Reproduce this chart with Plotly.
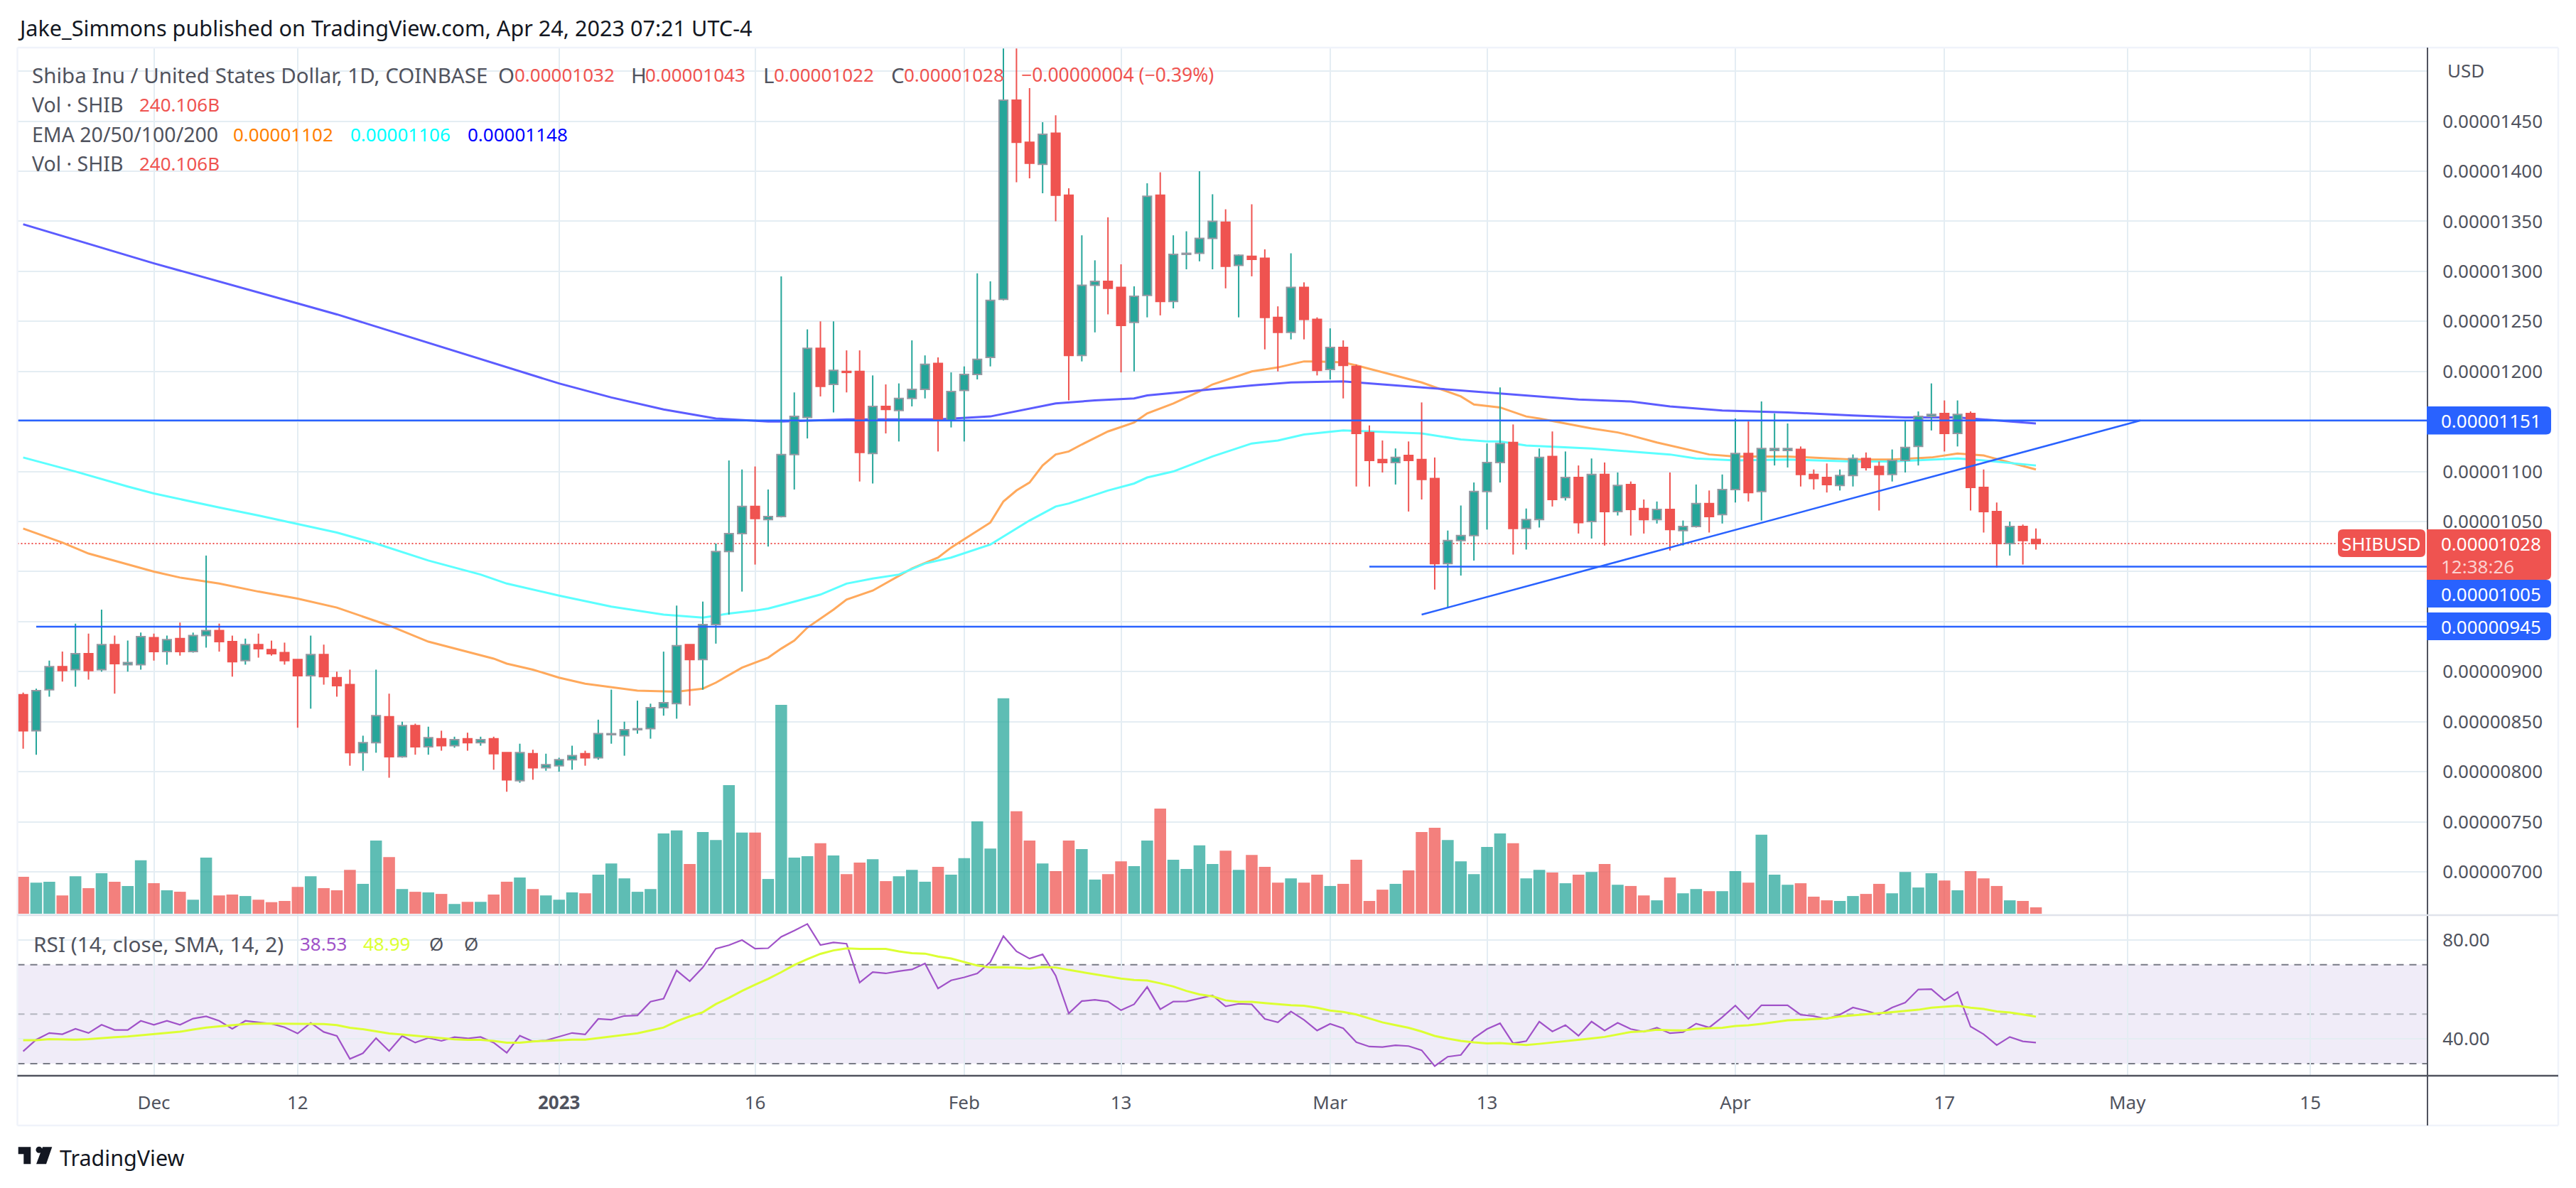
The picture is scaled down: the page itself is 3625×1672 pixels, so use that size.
"""SHIB/USD daily chart with EMAs, volume and RSI, in the TradingView look."""

import numpy as np
import pandas as pd
import plotly.graph_objects as go

W, H = 3625, 1672
FONT = "Noto Sans"
PRICE_UNIT = 1e-8  # all prices below are in units of 0.00000001

FIRST_DAY = "2022-11-21"

OPEN = [877, 841, 882, 905, 902, 918, 902, 927, 907, 907,
        934, 920, 933, 920, 936, 941, 930, 911, 927, 922,
        919, 912, 896, 917, 894, 887, 819, 829, 855, 815,
        846, 825, 833, 826, 833, 829, 833, 819, 791, 818,
        804, 806, 812, 818, 814, 837, 836, 842, 843, 864,
        868, 927, 912, 947, 1020, 1038, 1065, 1052, 1055, 1117,
        1154, 1223, 1187, 1200, 1200, 1118, 1165, 1161, 1173, 1182,
        1208, 1151, 1181, 1197, 1214, 1272, 1471, 1429, 1407, 1438,
        1376, 1216, 1286, 1290, 1284, 1249, 1276, 1376, 1270, 1317,
        1318, 1333, 1349, 1306, 1315, 1313, 1254, 1239, 1284, 1252,
        1202, 1224, 1205, 1139, 1112, 1109, 1116, 1112, 1093, 1008,
        1031, 1036, 1080, 1109, 1129, 1043, 1052, 1115, 1074, 1094,
        1050, 1097, 1060, 1087, 1063, 1052, 1062, 1041, 1045, 1068,
        1057, 1082, 1118, 1080, 1121, 1121, 1122, 1097, 1094, 1086,
        1096, 1113, 1105, 1097, 1111, 1125, 1155, 1158, 1138, 1158,
        1084, 1060, 1028, 1045, 1032]
HIGH = [879, 883, 911, 920, 948, 938, 962, 936, 931, 939,
        938, 936, 949, 939, 1016, 948, 936, 933, 938, 931,
        929, 912, 936, 927, 900, 902, 836, 902, 878, 850,
        848, 845, 841, 835, 839, 835, 835, 819, 828, 822,
        818, 814, 826, 821, 852, 882, 850, 871, 868, 920,
        966, 927, 970, 1028, 1111, 1102, 1105, 1082, 1295, 1179,
        1242, 1250, 1250, 1221, 1221, 1196, 1187, 1188, 1231, 1216,
        1214, 1199, 1205, 1298, 1290, 1530, 1530, 1483, 1449, 1456,
        1383, 1336, 1311, 1354, 1307, 1285, 1388, 1399, 1336, 1340,
        1400, 1377, 1362, 1317, 1367, 1322, 1265, 1318, 1289, 1254,
        1243, 1231, 1207, 1146, 1131, 1123, 1130, 1169, 1114, 1041,
        1066, 1089, 1128, 1184, 1147, 1063, 1123, 1140, 1120, 1106,
        1113, 1109, 1099, 1090, 1072, 1070, 1099, 1051, 1087, 1081,
        1097, 1153, 1150, 1170, 1158, 1148, 1125, 1102, 1108, 1102,
        1117, 1119, 1110, 1122, 1151, 1160, 1188, 1171, 1171, 1160,
        1102, 1069, 1050, 1047, 1043]
LOW = [823, 817, 875, 890, 885, 892, 900, 878, 900, 902,
       911, 907, 916, 919, 924, 920, 895, 907, 914, 916,
       907, 844, 863, 887, 875, 806, 801, 819, 794, 814,
       817, 817, 821, 824, 821, 826, 802, 780, 789, 792,
       801, 800, 802, 806, 812, 828, 816, 838, 833, 856,
       853, 866, 882, 928, 957, 980, 1007, 1025, 1054, 1082,
       1133, 1175, 1159, 1179, 1090, 1088, 1138, 1130, 1165, 1173,
       1120, 1144, 1130, 1192, 1205, 1271, 1389, 1393, 1378, 1350,
       1171, 1210, 1239, 1257, 1199, 1200, 1254, 1256, 1263, 1302,
       1310, 1302, 1283, 1254, 1295, 1222, 1200, 1232, 1232, 1196,
       1192, 1173, 1085, 1085, 1099, 1087, 1060, 1072, 982, 964,
       996, 1011, 1042, 1089, 1017, 1022, 1044, 1065, 1071, 1038,
       1033, 1026, 1056, 1036, 1038, 1048, 1021, 1026, 1044, 1039,
       1048, 1069, 1070, 1051, 1106, 1104, 1085, 1082, 1079, 1081,
       1085, 1101, 1061, 1090, 1099, 1106, 1141, 1120, 1125, 1061,
       1039, 1004, 1016, 1007, 1022]
CLOSE = [841, 881, 905, 901, 918, 901, 927, 908, 909, 935,
         920, 932, 920, 936, 941, 930, 910, 927, 923, 918,
         911, 896, 917, 895, 886, 819, 829, 856, 815, 846,
         825, 834, 826, 832, 829, 832, 818, 792, 819, 804,
         807, 812, 816, 814, 838, 838, 842, 843, 864, 869,
         926, 912, 947, 1020, 1038, 1065, 1053, 1055, 1117, 1155,
         1223, 1185, 1201, 1199, 1119, 1165, 1162, 1173, 1182, 1207,
         1151, 1180, 1197, 1212, 1271, 1471, 1429, 1408, 1437, 1376,
         1216, 1286, 1290, 1283, 1246, 1275, 1375, 1270, 1317, 1318,
         1333, 1350, 1305, 1316, 1312, 1254, 1239, 1284, 1252, 1201,
         1224, 1206, 1138, 1111, 1109, 1114, 1111, 1092, 1008, 1031,
         1036, 1080, 1109, 1128, 1043, 1052, 1114, 1072, 1094, 1049,
         1097, 1060, 1086, 1062, 1052, 1062, 1042, 1045, 1068, 1055,
         1082, 1118, 1079, 1123, 1123, 1123, 1097, 1093, 1087, 1096,
         1113, 1104, 1097, 1111, 1124, 1155, 1157, 1138, 1157, 1084,
         1060, 1028, 1045, 1031, 1028]

# volume in billions of SHIB
VOLUME = [1387, 1169, 1203, 688, 1410, 963, 1524, 1203, 1043, 2006,
          1146, 882, 825, 527, 2109, 688, 722, 665, 527, 435,
          481, 1008, 1410, 963, 882, 1650, 1123, 2750, 2132, 928,
          825, 802, 745, 367, 447, 447, 722, 1203, 1364, 928,
          688, 527, 802, 768, 1467, 1891, 1329, 825, 928, 3014,
          3129, 1868, 3071, 2773, 4836, 3048, 3048, 1306, 7850, 2109,
          2166, 2647, 2189, 1490, 1925, 2051, 1226, 1410, 1650, 1203,
          1765, 1467, 2086, 3472, 2452, 8100, 3851, 2750, 1891, 1604,
          2750, 2430, 1284, 1490, 1971, 1788, 2750, 3954, 2028, 1685,
          2567, 1868, 2372, 1650, 2212, 1765, 1169, 1329, 1169, 1467,
          1043, 1123, 2028, 481, 905, 1123, 1627, 3071, 3232, 2773,
          1971, 1490, 2510, 3014, 2647, 1329, 1650, 1547, 1146, 1467,
          1570, 1868, 1089, 1043, 688, 504, 1364, 768, 928, 848,
          848, 1604, 1169, 2968, 1467, 1089, 1146, 642, 504, 481,
          665, 745, 1123, 768, 1570, 986, 1524, 1249, 882, 1604,
          1329, 1043, 504, 481, 240]

RSI = [35.0, 39.7, 42.4, 41.9, 44.1, 42.4, 45.7, 43.6, 43.6, 47.3,
       45.7, 47.3, 45.7, 48.2, 49.1, 47.3, 44.1, 47.3, 46.7, 46.1,
       44.7, 42.2, 46.5, 42.8, 41.2, 31.9, 34.2, 40.3, 35.1, 41.2,
       38.5, 40.4, 39.2, 40.7, 40.2, 40.8, 38.5, 34.4, 41.3, 39.0,
       39.4, 40.8, 42.4, 41.8, 48.1, 47.8, 49.3, 49.5, 55.1, 56.3,
       67.7, 63.3, 68.9, 76.5, 77.9, 80.0, 76.5, 76.7, 81.3, 83.8,
       86.5, 78.0, 79.0, 78.5, 62.8, 67.0, 66.5, 67.4, 68.1, 70.5,
       60.4, 63.7, 64.9, 66.5, 71.1, 81.6, 75.4, 72.5, 74.2, 65.6,
       50.3, 55.3, 55.8, 55.1, 51.6, 54.0, 61.0, 52.0, 55.1, 55.2,
       56.3, 57.6, 53.2, 54.2, 54.0, 48.1, 46.7, 51.1, 47.7, 43.4,
       46.1, 44.3, 38.7, 36.9, 36.7, 37.4, 37.1, 35.4, 29.0, 32.8,
       33.5, 40.3, 44.0, 46.3, 38.2, 39.1, 47.0, 43.0, 45.6, 41.3,
       47.0, 43.4, 46.5, 44.0, 42.9, 44.5, 42.3, 42.7, 46.2, 44.6,
       48.8, 53.5, 48.1, 53.6, 53.6, 53.6, 49.8, 49.2, 48.1, 49.8,
       52.7, 51.4, 49.8, 52.7, 54.7, 60.0, 60.1, 55.6, 59.0, 45.0,
       41.9, 37.5, 40.8, 39.0, 38.53]
RSI_MA = [39.5, 39.5, 39.9, 39.7, 39.7, 39.9, 40.4, 40.7, 41.0, 41.5,
          42.0, 42.4, 42.9, 43.8, 44.6, 45.1, 45.6, 46.0, 46.2, 46.2,
          46.2, 46.1, 46.2, 46.0, 45.6, 44.5, 43.9, 43.1, 42.2, 41.8,
          41.3, 40.8, 40.2, 39.8, 39.6, 39.6, 39.2, 38.5, 38.5, 39.0,
          39.2, 39.5, 39.7, 39.7, 40.3, 40.9, 41.5, 42.3, 43.4, 44.6,
          47.1, 49.1, 50.8, 54.1, 56.6, 59.4, 61.9, 64.3, 67.0, 69.9,
          72.3, 74.4, 75.8, 76.6, 76.4, 76.5, 76.4, 75.4, 74.7, 74.5,
          73.3, 72.5, 71.2, 69.7, 68.9, 69.0, 68.8, 68.4, 69.1, 68.9,
          67.9, 67.0, 66.2, 65.1, 64.4, 63.8, 63.6, 62.5, 61.2, 59.4,
          58.0, 57.2, 55.6, 55.0, 55.0, 54.5, 54.0, 53.6, 53.4, 52.6,
          51.5, 50.9, 49.9, 48.3, 46.7, 45.6, 44.5, 43.0, 41.2, 40.1,
          39.2, 38.6, 38.2, 38.3, 37.8, 37.5, 38.0, 38.5, 39.2, 39.5,
          40.2, 40.8, 41.9, 42.8, 43.1, 43.7, 43.5, 43.4, 44.1, 44.4,
          44.5, 45.2, 45.5, 46.1, 46.7, 47.5, 47.7, 48.1, 48.3, 49.1,
          49.5, 49.8, 50.4, 50.8, 51.3, 51.8, 52.6, 52.9, 53.4, 52.6,
          52.1, 51.1, 50.7, 49.9, 48.99]

# EMAs read at the days where the curve bends (day number counted from FIRST_DAY)
EMA50_DAY = [0, 3, 5, 8, 10, 12, 15, 18, 21, 24, 26, 28, 31, 34, 36, 37, 39, 41, 43, 47,
             50, 52, 53, 55, 56, 57, 58, 59, 60, 62, 63, 65, 68, 70, 71, 74, 75, 76, 77, 78,
             79, 80, 81, 83, 85, 86, 88, 90, 91, 94, 96, 98, 99, 101, 102, 104, 107, 110, 111, 113,
             115, 116, 118, 120, 122, 123, 125, 127, 129, 131, 135, 140, 143, 146, 148, 150, 154]
EMA50 = [1043, 1029, 1018, 1007, 1000, 994, 988, 980, 973, 964, 955, 946, 930, 920, 913, 908, 902, 894, 888, 881,
         880, 883, 889, 904, 909, 914, 923, 931, 944, 962, 972, 981, 1003, 1014, 1024, 1049, 1070, 1081, 1089, 1106,
         1117, 1120, 1127, 1140, 1149, 1158, 1168, 1180, 1187, 1200, 1204, 1210, 1210, 1209, 1206, 1199, 1189, 1175, 1167, 1164,
         1155, 1153, 1148, 1143, 1139, 1136, 1129, 1123, 1117, 1115, 1115, 1112, 1112, 1114, 1118, 1116, 1102]
EMA100_DAY = [0, 4, 8, 10, 15, 18, 24, 27, 31, 35, 37, 41, 45, 49, 52, 54, 56, 57, 59, 61, 63, 65, 67, 69, 71,
              74, 77, 79, 80, 83, 85, 86, 88, 91, 94, 96, 98, 101, 107, 110, 112, 113, 115, 117, 120, 123, 126,
              128, 131, 135, 140, 143, 148, 150, 154]
EMA100 = [1114, 1100, 1085, 1078, 1064, 1056, 1039, 1028, 1011, 997, 988, 976, 965, 957, 954, 958, 961, 963, 970, 977, 988, 993, 997, 1008, 1014,
          1027, 1051, 1065, 1068, 1081, 1088, 1094, 1100, 1115, 1128, 1131, 1137, 1141, 1138, 1132, 1130, 1130, 1126, 1125, 1123, 1120, 1117,
          1113, 1111, 1112, 1110, 1110, 1113, 1111, 1106]
EMA200_DAY = [0, 10, 21, 24, 41, 45, 49, 53, 57, 58, 63, 70, 74, 77, 79, 82, 85, 86, 90, 94, 97, 101, 107,
              112, 115, 119, 123, 126, 130, 135, 140, 144, 148, 150, 154]
EMA200 = [1347, 1308, 1268, 1257, 1188, 1174, 1162, 1153, 1150, 1150, 1152, 1152, 1155, 1163, 1168, 1171, 1173, 1176, 1181, 1186, 1189, 1190, 1184,
          1179, 1176, 1172, 1170, 1165, 1161, 1159, 1156, 1154, 1154, 1152, 1148]

# hand-drawn support and resistance lines: (first date, last date, price, price)
LINE_DATES = [("2022-11-20 13:00", "2023-05-24", 1151, 1151),
              ("2023-03-04", "2023-05-24", 1005, 1005),
              ("2022-11-22", "2023-05-24", 945, 945),
              ("2023-03-08", "2023-05-02", 957, 1151)]
LAST_PRICE = 1028

X_RANGE = ["2022-11-20 13:26", "2023-05-23 23:00"]
X_TICK_DATES = ["2022-12-01", "2022-12-12", "2023-01-01", "2023-01-16", "2023-02-01", "2023-02-13",
                "2023-03-01", "2023-03-13", "2023-04-01", "2023-04-17", "2023-05-01", "2023-05-15"]
X_TICK_TEXT = ["Dec", "12", "<b>2023</b>", "16", "Feb", "13", "Mar", "13", "Apr", "17", "May", "15"]
PRICE_GRID = [700, 750, 800, 850, 900, 950, 1000, 1050, 1100, 1150, 1200, 1250, 1300, 1350, 1400, 1450, 1500]
# these levels lie under a price badge or under the USD caption, so they carry no label
PRICE_NO_LABEL = [950, 1000, 1150, 1500]
RSI_TICKS = [40, 80]

# pixel geometry of the panes
LEFT, AXIS_X, RIGHT = 24.5, 3416, 3600
TOP, PANE_Y, RSI_Y, BOTTOM = 67, 1288, 1514, 1584
VOL_BASE_PX = 1286
VOL_PER_PX = 26.7

UP, DOWN = "#26A69A", "#EF5350"
BLUE = "#2962FF"
TEXT = "#50535E"
GRID = "#E4EDF3"
FRAME = "#F0F3FA"
LETTERS = 29.5  # the original face has wider letters than digits
DIGITS = 26


def px(x):
    return x / W


def py(y):
    return 1 - y / H


def price_at(y):
    # linear price scale: 1450 sits at y=170.6, each price unit is 1.4085 px
    return (1450 - (y - 170.6) / 1.4085) * PRICE_UNIT


def prices(values):
    return (np.asarray(values, dtype=float) * PRICE_UNIT).tolist()


def label(x, y, text, size=DIGITS, color=TEXT, anchor="left"):
    return dict(xref="paper", yref="paper", x=px(x), y=py(y), text=text, showarrow=False,
                xanchor=anchor, yanchor="middle", borderpad=0,
                font=dict(family=FONT, size=size, color=color))


def badge(x0, y0, x1, y1, color, left_round=False):
    r = 7
    lr = r if left_round else 0
    path = (f"M {px(x0 + lr)} {py(y0)} L {px(x1 - r)} {py(y0)} Q {px(x1)} {py(y0)} {px(x1)} {py(y0 + r)} "
            f"L {px(x1)} {py(y1 - r)} Q {px(x1)} {py(y1)} {px(x1 - r)} {py(y1)} L {px(x0 + lr)} {py(y1)} ")
    if left_round:
        path += (f"Q {px(x0)} {py(y1)} {px(x0)} {py(y1 - r)} L {px(x0)} {py(y0 + r)} "
                 f"Q {px(x0)} {py(y0)} {px(x0 + lr)} {py(y0)} ")
    return dict(type="path", xref="paper", yref="paper", path=path + "Z", fillcolor=color,
                line=dict(width=0), layer="above")


def paper_line(x0, y0, x1, y1, color, width=2):
    return dict(type="line", xref="paper", yref="paper", x0=px(x0), y0=py(y0), x1=px(x1), y1=py(y1),
                line=dict(color=color, width=width), layer="above")


def polygon(points, color="#131722"):
    path = "M " + " L ".join(f"{px(x)} {py(y)}" for x, y in points) + " Z"
    return dict(type="path", xref="paper", yref="paper", path=path, fillcolor=color,
                line=dict(width=0), layer="above")


dates = pd.date_range(FIRST_DAY, periods=len(OPEN), freq="D")
is_up = np.array(CLOSE) >= np.array(OPEN)
day_ms = 24 * 3600 * 1000

fig = go.Figure()

# volume sits on the bottom layer
fig.add_trace(go.Bar(x=dates, y=VOLUME, width=0.9 * day_ms, yaxis="y", xaxis="x",
                     marker=dict(color=["rgba(38,166,154,0.74)" if u else "rgba(239,83,80,0.74)" for u in is_up],
                                 line=dict(width=0))))

# last price, EMAs and wicks share one layer under the candle bodies
fig.add_trace(go.Scatter(x=[X_RANGE[0], "2023-05-17 00:00"], y=prices([LAST_PRICE, LAST_PRICE]), mode="lines",
                         yaxis="y2", line=dict(color=DOWN, width=2, dash="2px,3px")))
for days, values, color in [(EMA50_DAY, EMA50, "#FFA95C"), (EMA100_DAY, EMA100, "#5CFFFF"),
                            (EMA200_DAY, EMA200, "#5C5CFF")]:
    fig.add_trace(go.Scatter(x=dates[days], y=prices(values), mode="lines", yaxis="y2",
                             line=dict(color=color, width=3)))

for up, color in [(True, UP), (False, DOWN)]:
    wick_x, wick_y = [], []
    for d, hi, lo in zip(dates[is_up == up], np.array(HIGH)[is_up == up], np.array(LOW)[is_up == up]):
        wick_x += [d, d, None]
        wick_y += [hi * PRICE_UNIT, lo * PRICE_UNIT, None]
    fig.add_trace(go.Scatter(x=wick_x, y=wick_y, mode="lines", yaxis="y2", line=dict(color=color, width=2)))

body_low = np.minimum(OPEN, CLOSE)
body_height = np.abs(np.array(CLOSE) - np.array(OPEN))
fig.add_trace(go.Bar(x=dates, y=prices(body_height), base=prices(body_low), width=0.66 * day_ms, yaxis="y3",
                     marker=dict(color=[UP if u else DOWN for u in is_up],
                                 line=dict(color=["#9598A1" if u else DOWN for u in is_up], width=2))))

for x0, x1, p0, p1 in LINE_DATES:
    fig.add_trace(go.Scatter(x=[x0, x1], y=prices([p0, p1]), mode="lines", yaxis="y4",
                             line=dict(color=BLUE, width=2.5)))

fig.add_trace(go.Scatter(x=dates, y=RSI, mode="lines", xaxis="x2", yaxis="y5", line=dict(color="#A052C8", width=2.2)))
fig.add_trace(go.Scatter(x=dates, y=RSI_MA, mode="lines", xaxis="x2", yaxis="y5", line=dict(color="#DCFF33", width=3)))

price_range = [price_at(PANE_Y), price_at(TOP)]
price_domain = [py(PANE_Y), py(TOP)]

shapes = [
    dict(type="rect", xref="x2 domain", yref="y5", x0=0, x1=1, y0=30, y1=70,
         fillcolor="rgba(126,87,194,0.115)", line=dict(width=0), layer="below"),
]
for level, dash_color in [(70, "#787B86"), (50, "#B2B5BE"), (30, "#787B86")]:
    shapes.append(dict(type="line", xref="x2 domain", yref="y5", x0=0, x1=1, y0=level, y1=level,
                       line=dict(color=dash_color, width=2, dash="10px,8px"), layer="below"))

shapes += [
    paper_line(LEFT, TOP, RIGHT, TOP, FRAME, 2.5),
    paper_line(LEFT, TOP, LEFT, BOTTOM, FRAME, 2.5),
    paper_line(RIGHT, TOP, RIGHT, BOTTOM, FRAME, 2.5),
    paper_line(LEFT, BOTTOM, RIGHT, BOTTOM, FRAME, 2.5),
    paper_line(AXIS_X, TOP, AXIS_X, BOTTOM, TEXT, 2),
    paper_line(LEFT, PANE_Y, RIGHT, PANE_Y, "#E0E3EB", 2.5),
    paper_line(LEFT, RSI_Y, RIGHT, RSI_Y, TEXT, 2.5),
    badge(3415, 572, 3590, 611.5, BLUE),
    badge(3290, 745, 3413, 784, DOWN, left_round=True),
    badge(3415, 745, 3590, 816, DOWN),
    badge(3415, 816, 3590, 855, BLUE),
    badge(3415, 862, 3590, 901, BLUE),
    # TradingView mark
    polygon([(25.7, 1614.3), (43.3, 1614.3), (43.3, 1638.3), (33.3, 1638.3), (33.3, 1624.3), (25.7, 1624.3)]),
    polygon([(60, 1614.3), (73.3, 1614.3), (65, 1638.3), (51, 1638.3)]),
    dict(type="circle", xref="paper", yref="paper", fillcolor="#131722", line=dict(width=0), layer="above",
         x0=px(50.5), x1=px(59.5), y0=py(1622.8), y1=py(1613.8)),
]

annotations = [
    label(24, 39, "Jake_Simmons published on TradingView.com, Apr 24, 2023 07:21 UTC-4", size=30.6, color="#131722"),
    label(44, 105, "Shiba Inu / United States Dollar, 1D, COINBASE", size=LETTERS),
    label(700, 105, "O", size=LETTERS),
    label(723, 105, "0.00001032", color=DOWN),
    label(887, 105, "H", size=LETTERS),
    label(907, 105, "0.00001043", color=DOWN),
    label(1073, 105, "L", size=LETTERS),
    label(1088, 105, "0.00001022", color=DOWN),
    label(1253, 105, "C", size=LETTERS),
    label(1271, 105, "0.00001028", color=DOWN),
    label(1436, 105, "−0.00000004 (−0.39%)", size=26.5, color=DOWN),
    label(44, 147, "Vol · SHIB", size=28.5),
    label(195, 147, "240.106B", color=DOWN),
    label(44, 189, "EMA 20/50/100/200", size=28.5),
    label(327, 189, "0.00001102", color="#FF8000"),
    label(492, 189, "0.00001106", color="#00FFFF"),
    label(657, 189, "0.00001148", color="#0000FF"),
    label(44, 230, "Vol · SHIB", size=28.5),
    label(195, 230, "240.106B", color=DOWN),
    label(45.6, 1328, "RSI (14, close, SMA, 14, 2)", size=29.8),
    label(421, 1328, "38.53", color="#A052C8"),
    label(510, 1328, "48.99", color="#DCFF33"),
    label(603, 1328, "Ø"),
    label(652, 1328, "Ø"),
    label(3443, 99, "USD"),
    label(3434, 591.5, "0.00001151", color="white"),
    label(3351, 764.5, "SHIBUSD", color="white", anchor="center"),
    label(3434, 764.5, "0.00001028", color="white"),
    label(3434, 797, "12:38:26", color="#FBD0CF"),
    label(3434, 835.5, "0.00001005", color="white"),
    label(3434, 881.5, "0.00000945", color="white"),
    label(83, 1629, "TradingView", size=30.5, color="#131722"),
]

fig.update_layout(
    width=W, height=H, margin=dict(l=0, r=0, t=0, b=0), autosize=False,
    paper_bgcolor="white", plot_bgcolor="white", showlegend=False, barmode="overlay", hovermode=False,
    font=dict(family=FONT, size=DIGITS, color=TEXT),
    shapes=shapes, annotations=annotations,
    xaxis=dict(domain=[px(LEFT), px(AXIS_X)], range=X_RANGE, type="date", anchor="y", showticklabels=False,
               tickvals=X_TICK_DATES, showgrid=True, gridcolor=GRID, gridwidth=2, zeroline=False, showline=False,
               ticks=""),
    xaxis2=dict(domain=[px(LEFT), px(AXIS_X)], range=X_RANGE, type="date", anchor="y5", tickmode="array",
                tickvals=X_TICK_DATES, ticktext=X_TICK_TEXT, showgrid=True, gridcolor=GRID, gridwidth=2,
                zeroline=False, showline=False, ticks="outside", ticklen=15, tickcolor="rgba(0,0,0,0)",
                tickangle=0),
    yaxis=dict(domain=price_domain, range=[(PANE_Y - VOL_BASE_PX) * -VOL_PER_PX, (VOL_BASE_PX - TOP) * VOL_PER_PX],
               visible=False),
    yaxis2=dict(domain=price_domain, range=price_range, overlaying="y", side="right", anchor="x", tickmode="array",
                tickvals=prices(PRICE_GRID),
                ticktext=["" if p in PRICE_NO_LABEL else f"{p * PRICE_UNIT:.8f}" for p in PRICE_GRID],
                showgrid=True, gridcolor=GRID, gridwidth=2, zeroline=False, showline=False,
                ticks="outside", ticklen=15, tickcolor="rgba(0,0,0,0)"),
    yaxis3=dict(domain=price_domain, range=price_range, overlaying="y", visible=False),
    yaxis4=dict(domain=price_domain, range=price_range, overlaying="y", visible=False),
    yaxis5=dict(domain=[py(RSI_Y), py(PANE_Y)], range=[25.1, 90.06], side="right", anchor="x2", tickmode="array",
                tickvals=RSI_TICKS, ticktext=[f"{v:.2f}" for v in RSI_TICKS], showgrid=True, gridcolor=GRID,
                gridwidth=2, zeroline=False, showline=False, ticks="outside", ticklen=15,
                tickcolor="rgba(0,0,0,0)"),
)

fig.write_html("out.html", config={"displayModeBar": False}, post_script="document.body.style.margin='0';")
